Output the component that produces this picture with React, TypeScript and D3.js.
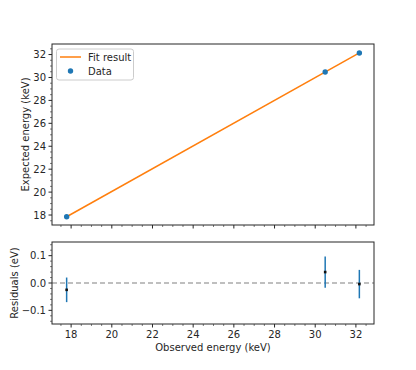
import React from "react";
import * as d3 from "d3";

// observed vs expected line energies (keV)
const observed = [17.78, 30.49, 32.17];
const expected = [17.85, 30.48, 32.14];
// residuals of the fit (eV) and their errors
const residuals = [-0.025, 0.04, -0.004];
const resErrors = [0.045, 0.057, 0.052];
// linear fit end points
const fitX = [17.78, 32.17];

const xTicks = [18, 20, 22, 24, 26, 28, 30, 32];
const yTopTicks = [18, 20, 22, 24, 26, 28, 30, 32];
const yResTicks = [-0.1, 0.0, 0.1];

const W = 416, H = 370;
const left = 52, right = 374;
const top1 = 44, bot1 = 225;
const top2 = 242, bot2 = 324;
const font = "DejaVu Sans, sans-serif";
const fs = 10;
const blue = "#1f77b4";
const orange = "#ff7f0e";
const ink = "#262626";

const fitSlope = (expected[2] - expected[0]) / (observed[2] - observed[0]);
const fitLine = (x: number) => expected[0] + (x - observed[0]) * fitSlope;

export default function App() {
  const x = d3.scaleLinear().domain([17.06, 32.89]).range([left, right]);
  const yTop = d3.scaleLinear().domain([17.13, 32.92]).range([bot1, top1]);
  const yRes = d3.scaleLinear().domain([-0.15, 0.15]).range([bot2, top2]);

  const line = d3.line<number>().x((d) => x(d)).y((d) => yTop(fitLine(d)));

  const isMajor = (v: number) => Math.abs(v / 2 - Math.round(v / 2)) < 1e-6;
  const minorX = d3.range(17.5, 33, 0.5).filter((v) => v > 17.06 && v < 32.89 && !isMajor(v));
  const minorYTop = d3.range(17.5, 33, 0.5).filter((v) => v > 17.13 && v < 32.92 && !isMajor(v));
  const minorYRes = d3.range(-0.14, 0.15, 0.02).filter((v) => Math.abs(v * 10 - Math.round(v * 10)) > 1e-6);

  const fmtRes = (v: number) => (v < 0 ? "\u2212" : "") + Math.abs(v).toFixed(1);

  return (
    <svg width={W} height={H} style={{ position: "absolute", left: 0, top: 0, background: "#fff" }} fontFamily={font}>
      {/* top panel */}
      <g>
        <path d={line(fitX) || ""} fill="none" stroke={orange} strokeWidth={1.5} />
        {observed.map((v, i) => (
          <circle key={i} cx={x(v)} cy={yTop(expected[i])} r={2.7} fill={blue} />
        ))}
        <rect x={left} y={top1} width={right - left} height={bot1 - top1} fill="none" stroke={ink} strokeWidth={1} />
        {xTicks.map((t) => (
          <line key={t} x1={x(t)} x2={x(t)} y1={bot1} y2={bot1 + 3.5} stroke={ink} />
        ))}
        {minorX.map((t) => (
          <line key={t} x1={x(t)} x2={x(t)} y1={bot1} y2={bot1 + 2} stroke={ink} strokeWidth={0.6} />
        ))}
        {yTopTicks.map((t) => (
          <g key={t}>
            <line x1={left - 3.5} x2={left} y1={yTop(t)} y2={yTop(t)} stroke={ink} />
            <text x={left - 6} y={yTop(t)} dy="0.35em" textAnchor="end" fontSize={fs} fill={ink}>{t}</text>
          </g>
        ))}
        {minorYTop.map((t) => (
          <line key={t} x1={left - 2} x2={left} y1={yTop(t)} y2={yTop(t)} stroke={ink} strokeWidth={0.6} />
        ))}
        <text transform={`translate(${28.5},${(top1 + bot1) / 2}) rotate(-90)`} textAnchor="middle" fontSize={fs} fill={ink}>
          Expected energy (keV)
        </text>
        {/* legend */}
        <rect x={56.5} y={49} width={77} height={31} rx={2.5} fill="#fff" fillOpacity={0.8} stroke="#ccc" />
        <line x1={60} x2={81} y1={57} y2={57} stroke={orange} strokeWidth={1.5} />
        <text x={88} y={57} dy="0.35em" fontSize={fs} fill={ink}>Fit result</text>
        <circle cx={70.5} cy={71} r={2.7} fill={blue} />
        <text x={88} y={71} dy="0.35em" fontSize={fs} fill={ink}>Data</text>
      </g>

      {/* residuals panel */}
      <g>
        <line x1={left} x2={right} y1={yRes(0)} y2={yRes(0)} stroke="#808080" strokeWidth={1.2} strokeDasharray="5,3" />
        {observed.map((v, i) => (
          <g key={i}>
            <line x1={x(v)} x2={x(v)} y1={yRes(residuals[i] - resErrors[i])} y2={yRes(residuals[i] + resErrors[i])} stroke={blue} strokeWidth={1.5} />
            <rect x={x(v) - 1.3} y={yRes(residuals[i]) - 1.3} width={2.6} height={2.6} fill="#111" />
          </g>
        ))}
        <rect x={left} y={top2} width={right - left} height={bot2 - top2} fill="none" stroke={ink} strokeWidth={1} />
        {xTicks.map((t) => (
          <g key={t}>
            <line x1={x(t)} x2={x(t)} y1={bot2} y2={bot2 + 3.5} stroke={ink} />
            <text x={x(t)} y={bot2 + 6} dy="0.8em" textAnchor="middle" fontSize={fs} fill={ink}>{t}</text>
          </g>
        ))}
        {minorX.map((t) => (
          <line key={t} x1={x(t)} x2={x(t)} y1={bot2} y2={bot2 + 2} stroke={ink} strokeWidth={0.6} />
        ))}
        {yResTicks.map((t) => (
          <g key={t}>
            <line x1={left - 3.5} x2={left} y1={yRes(t)} y2={yRes(t)} stroke={ink} />
            <text x={left - 6} y={yRes(t)} dy="0.35em" textAnchor="end" fontSize={fs} fill={ink}>{fmtRes(t)}</text>
          </g>
        ))}
        {minorYRes.map((t) => (
          <line key={t.toFixed(2)} x1={left - 2} x2={left} y1={yRes(t)} y2={yRes(t)} stroke={ink} strokeWidth={0.6} />
        ))}
        <text transform={`translate(${17.5},${(top2 + bot2) / 2}) rotate(-90)`} textAnchor="middle" fontSize={fs} fill={ink}>
          Residuals (eV)
        </text>
        <text x={(left + right) / 2} y={351} textAnchor="middle" fontSize={fs} fill={ink}>
          Observed energy (keV)
        </text>
      </g>
    </svg>
  );
}
